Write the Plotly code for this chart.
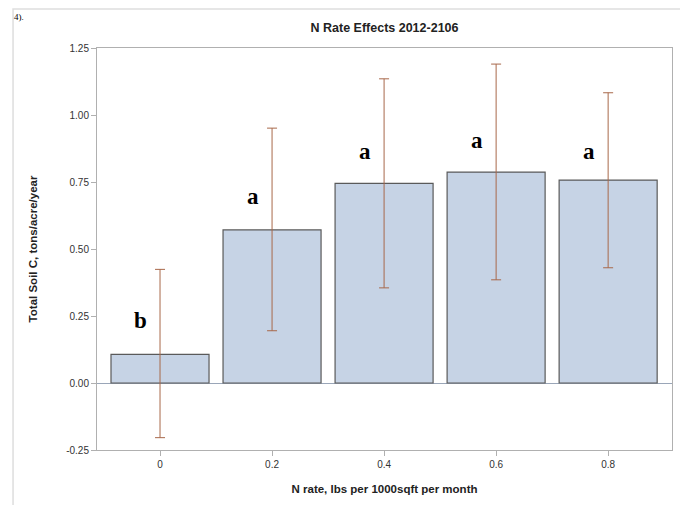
import plotly.graph_objects as go

n_rate = [0, 0.2, 0.4, 0.6, 0.8]
tick_labels = ["0", "0.2", "0.4", "0.6", "0.8"]
soil_c = [0.107, 0.571, 0.745, 0.787, 0.757]
upper = [0.424, 0.951, 1.135, 1.19, 1.083]
lower = [-0.204, 0.195, 0.355, 0.385, 0.43]
letters = ["b", "a", "a", "a", "a"]
letter_y = [0.232, 0.695, 0.865, 0.906, 0.865]

err_plus = [u - v for u, v in zip(upper, soil_c)]
err_minus = [v - l for v, l in zip(soil_c, lower)]

fig = go.Figure()
fig.add_trace(go.Bar(
    x=n_rate, y=soil_c, width=0.175,
    marker=dict(color="#c6d3e5", line=dict(color="#5a5a5a", width=1.2)),
    error_y=dict(type="data", symmetric=False, array=err_plus, arrayminus=err_minus,
                 color="#a8684a", thickness=1, width=5),
    showlegend=False,
))

for x, y, t in zip(n_rate, letter_y, letters):
    fig.add_annotation(x=x - 0.034, y=y, text=t, showarrow=False,
                       font=dict(family="Liberation Serif", size=23, color="black", weight="bold"))

fig.add_annotation(xref="paper", yref="paper", x=-0.146, y=1.093, xanchor="left", yanchor="top",
                   text="4).", showarrow=False, borderpad=0,
                   font=dict(family="Liberation Serif", size=9, color="black"))

fig.add_shape(type="rect", xref="paper", yref="paper", x0=-0.146, x1=1.019, y0=-0.16, y1=1.097,
              line=dict(color="#dedede", width=1.5), fillcolor="rgba(0,0,0,0)", layer="below")

fig.update_layout(
    width=680, height=497,
    margin=dict(l=89, r=16, t=40, b=55, autoexpand=False),
    paper_bgcolor="white", plot_bgcolor="white",
    title=dict(text="<b>N Rate Effects 2012-2106</b>", x=0.5, xref="paper", y=0.96, yanchor="middle",
               font=dict(family="Liberation Sans", size=12.5, color="#222")),
    font=dict(family="Liberation Sans", color="#444"),
)
fig.update_xaxes(
    range=[-0.1125, 0.914], tickvals=n_rate, ticktext=tick_labels,
    showgrid=False, zeroline=False, showline=True, mirror=True, linecolor="#b0b0b0", linewidth=1,
    ticks="outside", ticklen=5, tickcolor="#b0b0b0", tickfont=dict(size=10, color="#333"),
    title=dict(text="<b>N rate, lbs per 1000sqft per month</b>", standoff=15,
               font=dict(size=11.5, color="#222")),
)
fig.update_yaxes(
    range=[-0.25, 1.25], tickvals=[-0.25, 0, 0.25, 0.5, 0.75, 1.0, 1.25],
    ticktext=["-0.25", "0.00", "0.25", "0.50", "0.75", "1.00", "1.25"],
    showgrid=False, zeroline=True, zerolinecolor="#9aa6b8", zerolinewidth=1,
    showline=True, mirror=True, linecolor="#b0b0b0", linewidth=1,
    ticks="outside", ticklen=5, tickcolor="#b0b0b0", tickfont=dict(size=10, color="#333"),
    title=dict(text="<b>Total Soil C, tons/acre/year</b>", standoff=26,
               font=dict(size=11.5, color="#222")),
)

fig.write_html("out.html")
